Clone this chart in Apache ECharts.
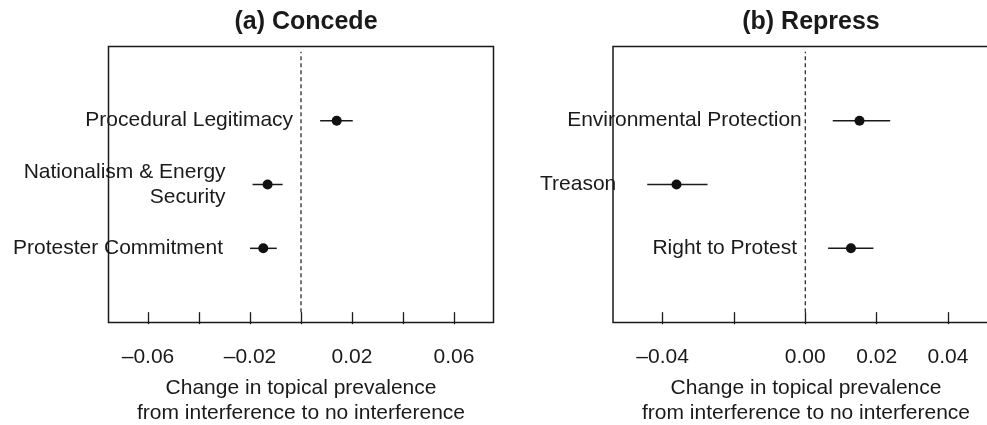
<!DOCTYPE html>
<html>
<head>
<meta charset="utf-8">
<script src="https://cdn.jsdelivr.net/npm/echarts@6/dist/echarts.min.js"></script>
<style>
  html, body { margin: 0; padding: 0; background: #fff; }
  #chart { width: 987px; height: 425px; }
</style>
</head>
<body>
<div id="chart"></div>
<script>
  // panel (a) Concede
  const topicsA = ['Procedural Legitimacy', 'Nationalism & Energy\nSecurity', 'Protester Commitment'];
  const estA = [0.0140, -0.0131, -0.0148];
  const lowA = [0.0075, -0.0190, -0.0200];
  const highA = [0.0203, -0.0072, -0.0095];
  const ticksA = [-0.06, -0.04, -0.02, 0, 0.02, 0.04, 0.06];
  const tickLabelsA = [-0.06, -0.02, 0.02, 0.06];

  // panel (b) Repress
  const topicsB = ['Environmental Protection', 'Treason', 'Right to Protest'];
  const estB = [0.0152, -0.0361, 0.0128];
  const lowB = [0.0077, -0.0443, 0.0064];
  const highB = [0.0238, -0.0274, 0.0191];
  const ticksB = [-0.04, -0.02, 0, 0.02, 0.04];
  const tickLabelsB = [-0.04, 0, 0.02, 0.04];

  // row positions, top to bottom
  const rows = [3, 2, 1];
  const titles = ['(a) Concede', '(b) Repress'];
  const xTitle = 'Change in topical prevalence\nfrom interference to no interference';

  const ink = '#1a1a1a';
  const font = 'Liberation Sans, Arial, Helvetica, sans-serif';

  const fmt = (v, digits) => {
    const s = Math.abs(v).toFixed(digits);
    return v < 0 ? '\u2013' + s : s;
  };

  const makeX = (idx, min, max, ticks, labels, digits) => ({
    gridIndex: idx,
    type: 'value',
    min: min,
    max: max,
    splitLine: { show: false },
    axisLine: { show: false },
    axisTick: { show: true, length: 12, customValues: ticks, lineStyle: { color: ink, width: 1.3 } },
    axisLabel: {
      customValues: labels,
      margin: 24,
      fontFamily: font,
      fontSize: 21,
      color: ink,
      formatter: (v) => fmt(v, digits),
    },
    name: xTitle,
    nameLocation: 'middle',
    nameGap: 53,
    nameTextStyle: { fontFamily: font, fontSize: 21, lineHeight: 25, color: ink },
  });

  const makeY = (idx) => ({
    gridIndex: idx,
    type: 'value',
    min: -0.162,
    max: 4.162,
    show: false,
  });

  const panelSeries = (idx, topics, est, low, high, gap) => [
    {
      type: 'line',
      xAxisIndex: idx,
      yAxisIndex: idx,
      data: [[0, 0], [0, 4.08]],
      symbol: 'none',
      silent: true,
      lineStyle: { color: ink, width: 1.2, type: [4, 3] },
    },
    {
      type: 'custom',
      xAxisIndex: idx,
      yAxisIndex: idx,
      data: rows.map((r, i) => [low[i], high[i], r]),
      renderItem: (params, api) => {
        const a = api.coord([api.value(0), api.value(2)]);
        const b = api.coord([api.value(1), api.value(2)]);
        return {
          type: 'line',
          shape: { x1: a[0], y1: a[1], x2: b[0], y2: b[1] },
          style: { stroke: ink, lineWidth: 1.5 },
        };
      },
    },
    {
      type: 'scatter',
      xAxisIndex: idx,
      yAxisIndex: idx,
      data: rows.map((r, i) => [est[i], r]),
      symbol: 'circle',
      symbolSize: 10,
      itemStyle: { color: '#111', opacity: 1 },
    },
    {
      // topic names, right-aligned just left of each interval
      type: 'custom',
      xAxisIndex: idx,
      yAxisIndex: idx,
      silent: true,
      clip: false,
      data: rows.map((r, i) => [low[i], r, i]),
      renderItem: (params, api) => {
        const p = api.coord([api.value(0), api.value(1)]);
        return {
          type: 'text',
          x: p[0] - gap,
          y: p[1],
          style: {
            text: topics[api.value(2)],
            fill: ink,
            font: '21px ' + font,
            lineHeight: 25,
            align: 'right',
            verticalAlign: 'middle',
          },
        };
      },
    },
  ];

  const chart = echarts.init(document.getElementById('chart'));
  chart.setOption({
    animation: false,
    backgroundColor: '#fff',
    title: [
      { text: titles[0], left: 301, top: 5, textAlign: 'center',
        textStyle: { fontFamily: font, fontSize: 25, fontWeight: 'bold', color: ink } },
      { text: titles[1], left: 806, top: 5, textAlign: 'center',
        textStyle: { fontFamily: font, fontSize: 25, fontWeight: 'bold', color: ink } },
    ],
    grid: [
      { left: 108.5, top: 46.5, width: 385, height: 276, outerBoundsMode: 'none', show: true, borderColor: ink, borderWidth: 1.5, backgroundColor: 'transparent' },
      { left: 613, top: 46.5, width: 386, height: 276, outerBoundsMode: 'none', show: true, borderColor: ink, borderWidth: 1.5, backgroundColor: 'transparent' },
    ],
    xAxis: [
      makeX(0, -0.0755, 0.0755, ticksA, tickLabelsA, 2),
      makeX(1, -0.0539, 0.0543, ticksB, tickLabelsB, 2),
    ],
    yAxis: [makeY(0), makeY(1)],
    series: [
      ...panelSeries(0, topicsA, estA, lowA, highA, 27),
      ...panelSeries(1, topicsB, estB, lowB, highB, 31),
    ],
  });
</script>
</body>
</html>
